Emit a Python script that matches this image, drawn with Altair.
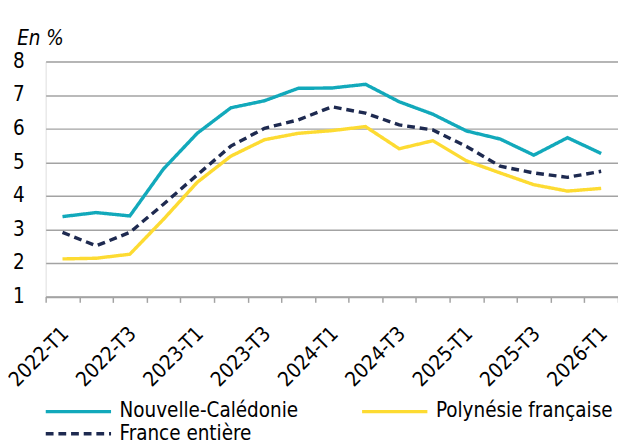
import altair as alt
import pandas as pd
import json

quarters = ["2022-T1", "2022-T2", "2022-T3", "2022-T4",
            "2023-T1", "2023-T2", "2023-T3", "2023-T4",
            "2024-T1", "2024-T2", "2024-T3", "2024-T4",
            "2025-T1", "2025-T2", "2025-T3", "2025-T4",
            "2026-T1"]
nouvelle_caledonie = [3.38, 3.50, 3.40, 4.80, 5.86, 6.62, 6.83, 7.20, 7.21,
                      7.32, 6.80, 6.43, 5.93, 5.69, 5.21, 5.73, 5.26]
polynesie = [2.12, 2.14, 2.26, 3.30, 4.40, 5.18, 5.67, 5.86, 5.94,
             6.06, 5.40, 5.64, 5.04, 4.68, 4.33, 4.14, 4.22]
france = [2.91, 2.51, 2.91, 3.75, 4.62, 5.48, 6.01, 6.26, 6.65,
          6.46, 6.11, 5.96, 5.47, 4.88, 4.68, 4.55, 4.73]
series_names = ["Nouvelle-Calédonie", "Polynésie française", "France entière"]
series_colors = ["#12A9BB", "#FDDB32", "#1E2A50"]
series_dashes = [[1, 0], [1, 0], [8, 5]]
y_ticks = [1, 2, 3, 4, 5, 6, 7, 8]
shown_labels = quarters[::2]

rows = []
for name, vals in zip(series_names, [nouvelle_caledonie, polynesie, france]):
    for q, v in zip(quarters, vals):
        rows.append({"q": q, "v": v, "s": name})
df = pd.DataFrame(rows)

FONT = "DejaVu Sans Condensed, DejaVu Sans, sans-serif"
FS = 21
GRID = "#A3A3A3"
label_expr = "indexof(" + json.dumps(shown_labels) + ", datum.value) >= 0 ? datum.label : ''"

legend = alt.Legend(title=None, orient="none", legendX=-3.7, legendY=349,
                    direction="horizontal", columns=2)

chart = alt.Chart(df).mark_line(strokeWidth=3.5).encode(
    x=alt.X("q:N", sort=quarters,
            scale=alt.Scale(type="band", paddingInner=0, paddingOuter=0),
            axis=alt.Axis(title=None, tickBand="extent", labelAngle=-45,
                          labelAlign="right", labelBaseline="top",
                          labelExpr=label_expr,
                          labelOffset=-5, labelPadding=21, tickSize=6,
                          tickColor=GRID, tickWidth=1.5, domainColor=GRID, domainWidth=1.5,
                          labelOverlap=False, labelFontSize=FS, labelFont=FONT,
                          labelColor="#000000", grid=False)),
    y=alt.Y("v:Q", scale=alt.Scale(domain=[1, 8], nice=False, zero=False),
            axis=alt.Axis(values=y_ticks, title="En %", titleAngle=0, titleAlign="left",
                          titleBaseline="alphabetic", titleX=-29.7, titleY=-17,
                          titleFontStyle="italic", titleFontWeight="normal",
                          titleFontSize=FS, titleFont=FONT, titleColor="#000000",
                          labelFontSize=FS, labelFont=FONT, labelColor="#000000",
                          labelPadding=22, ticks=False, tickSize=0, domain=False,
                          grid=True, gridColor=GRID, gridWidth=1.5)),
    color=alt.Color("s:N", scale=alt.Scale(domain=series_names, range=series_colors),
                    legend=legend),
    strokeDash=alt.StrokeDash("s:N", scale=alt.Scale(domain=series_names, range=series_dashes),
                              legend=legend),
).properties(
    width=588, height=241.5,
    autosize=alt.AutoSizeParams(type="none"),
    padding={"left": 38.7, "top": 49, "right": 0, "bottom": 142.5},
).configure_view(stroke=None).configure(background="white").configure_legend(
    symbolType="M-1,0L9,0", symbolSize=180, symbolStrokeWidth=3.5, labelFontSize=FS,
    labelFont=FONT, labelColor="#000000", labelOffset=58.6,
    columnPadding=57, rowPadding=1, padding=0, labelLimit=400,
)

chart.save("out.html", embed_options={"renderer": "svg", "actions": False})
